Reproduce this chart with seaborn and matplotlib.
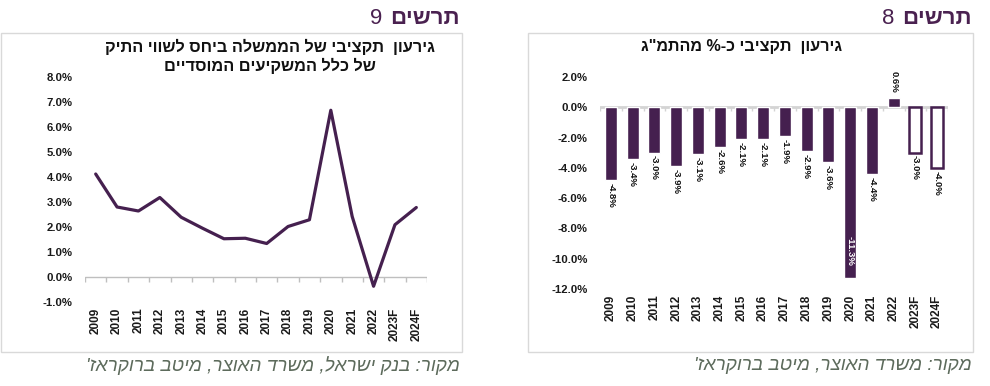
import re
import matplotlib
matplotlib.use('Agg')
import matplotlib.pyplot as plt
import numpy as np
import pandas as pd
import seaborn as sns
from matplotlib.patches import Rectangle

# data
years = ['2009', '2010', '2011', '2012', '2013', '2014', '2015', '2016',
         '2017', '2018', '2019', '2020', '2021', '2022', '2023F', '2024F']
deficit_to_portfolio = [4.12, 2.80, 2.64, 3.18, 2.39, 1.95, 1.53, 1.55,
                        1.34, 2.02, 2.29, 6.67, 2.42, -0.37, 2.09, 2.78]
deficit_to_gdp = [-4.8, -3.4, -3.0, -3.9, -3.1, -2.6, -2.1, -2.1,
                  -1.9, -2.9, -3.6, -11.3, -4.4, 0.6, -3.0, -4.0]
forecast_years = ['2023F', '2024F']

left_ticks = [-1, 0, 1, 2, 3, 4, 5, 6, 7, 8]
right_ticks = [-12, -10, -8, -6, -4, -2, 0, 2]

fig_num_left = 'תרשים 9'
fig_num_right = 'תרשים 8'
title_left = ['גירעון  תקציבי של הממשלה ביחס לשווי התיק', 'של כלל המשקיעים המוסדיים']
title_right = 'גירעון  תקציבי כ-% מהתמ"ג'
source_left = "מקור: בנק ישראל, משרד האוצר, מיטב ברוקראז'"
source_right = "מקור: משרד האוצר, מיטב ברוקראז'"

PURPLE = '#45204f'
TITLE_PURPLE = '#4a2150'
SRC_COLOR = '#5d6b5c'
W, H = 990, 386


def rtl(s):
    """Reverse Hebrew text into visual order, keeping number runs intact."""
    tokens = re.findall(r'[0-9][0-9.,]*|[^0-9]', s)
    return ''.join(reversed(tokens))


def px_axes(x0, y0, x1, y1):
    return fig.add_axes([x0 / W, 1 - y1 / H, (x1 - x0) / W, (y1 - y0) / H])


sns.set_style('white')
plt.rcParams['font.family'] = ['Liberation Sans', 'DejaVu Sans']

fig = plt.figure(figsize=(W / 100, H / 100), dpi=100)

# panel frames
for x0, x1 in [(1, 462), (528, 973)]:
    fig.patches.append(Rectangle((x0 / W, 1 - 352 / H), (x1 - x0) / W, (352 - 33) / H,
                                 transform=fig.transFigure, fill=False,
                                 edgecolor='#d9d9d9', lw=1))

# panel headings
for (right_x, label) in [(460, fig_num_left), (972, fig_num_right)]:
    word, num = label.split(' ')
    t = fig.text(right_x / W, 1 - 18 / H, rtl(word), ha='right', va='center',
                 fontsize=16, fontweight='bold', color=TITLE_PURPLE)
    fig.canvas.draw()
    bb = t.get_window_extent()
    fig.text((bb.x0 - 8) / W, 1 - 18 / H, num, ha='right', va='center',
             fontsize=16, color=TITLE_PURPLE)

# chart titles
fig.text(270 / W, 1 - 47 / H, rtl(title_left[0]), ha='center', va='center',
         fontsize=11.8, fontweight='bold', color='#111111')
fig.text(270 / W, 1 - 66 / H, rtl(title_left[1]), ha='center', va='center',
         fontsize=11.8, fontweight='bold', color='#111111')
fig.text(742 / W, 1 - 47 / H, rtl(title_right), ha='center', va='center',
         fontsize=11.6, fontweight='bold', color='#111111')

# sources
fig.text(460 / W, 1 - 366 / H, rtl(source_left), ha='right', va='center',
         fontsize=13.6, style='italic', color=SRC_COLOR)
fig.text(972 / W, 1 - 366 / H, rtl(source_right), ha='right', va='center',
         fontsize=13.6, style='italic', color=SRC_COLOR)

# left chart: line
ax1 = px_axes(85, 77, 427, 302)
df1 = pd.DataFrame({'year': years, 'value': deficit_to_portfolio})
sns.lineplot(data=df1, x='year', y='value', sort=False, color=PURPLE, lw=2.3, ax=ax1)
ax1.set_xlim(-0.5, len(years) - 0.5)
ax1.set_ylim(-1, 8)
ax1.axhline(0, color='#bfbfbf', lw=1, zorder=1)
ax1.vlines(np.arange(len(years) + 1) - 0.5, -0.18, 0, color='#bfbfbf', lw=1, zorder=1)

# right chart: bars
ax2 = px_axes(600, 77, 948, 289)
df2 = pd.DataFrame({'year': years, 'value': deficit_to_gdp})
sns.barplot(data=df2, x='year', y='value', color=PURPLE, saturation=1,
            width=0.55, ax=ax2, zorder=3)
for patch, yr in zip(ax2.patches, years):
    if yr in forecast_years:
        patch.set_facecolor('white')
        patch.set_edgecolor(PURPLE)
        patch.set_linewidth(1.8)
ax2.set_xlim(-0.5, len(years) - 0.5)
ax2.set_ylim(-12, 2)
ax2.axhline(0, color='#d4d4d4', lw=2, zorder=1)
ax2.vlines(np.arange(len(years) + 1) - 0.5, -0.25, 0, color='#d4d4d4', lw=1, zorder=1)

for i, v in enumerate(deficit_to_gdp):
    lbl = f'{v:.1f}%'
    if v >= 0:
        ax2.annotate(lbl, (i, v), xytext=(0, 4), textcoords='offset points',
                     rotation=270, ha='center', va='bottom', fontsize=6.8,
                     fontweight='bold', color='#111111', annotation_clip=False)
    elif v < -10:
        ax2.annotate(lbl, (i, v), xytext=(0, 9), textcoords='offset points',
                     rotation=270, ha='center', va='bottom', fontsize=6.8,
                     fontweight='bold', color='white', zorder=5)
    else:
        ax2.annotate(lbl, (i, v), xytext=(0, -2), textcoords='offset points',
                     rotation=270, ha='center', va='top', fontsize=6.8,
                     fontweight='bold', color='#111111')

for ax, ticks in [(ax1, left_ticks), (ax2, right_ticks)]:
    ax.set_xlabel('')
    ax.set_ylabel('')
    ax.set_yticks(ticks)
    ax.set_yticklabels([f'{t:.1f}%' for t in ticks], fontsize=8.2, fontweight='bold',
                       color='#1a1a1a')
    ax.set_xticks(range(len(years)))
    ax.set_xticklabels(years, rotation=90, fontsize=8.5, fontweight='bold', color='#1a1a1a')
    ax.tick_params(axis='both', length=0)
    ax.tick_params(axis='y', pad=9)
    ax.tick_params(axis='x', pad=4)
    for s in ax.spines.values():
        s.set_visible(False)
    ax.grid(False)
    ax.set_facecolor('none')

fig.savefig('out.png', dpi=100)
